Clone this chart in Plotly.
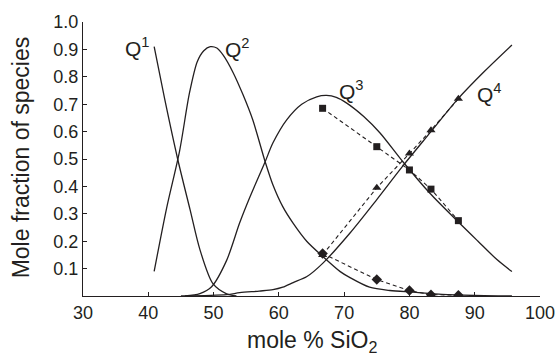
import plotly.graph_objects as go

# Solid model curves
q1_x = [40.9, 42.5, 44.5, 46.4, 47.9, 49.9, 52.0, 53.5]
q1_y = [0.91, 0.72, 0.50, 0.315, 0.17, 0.045, 0.008, 0.0]

q2_x = [40.9, 42.8, 44.8, 46.3, 47.5, 48.5, 49.5, 50.5, 51.5, 53.0, 54.5, 56.0, 57.9, 59.1, 60.6, 62.2,
        64.3, 66.75, 69.4, 70.9, 73.9, 77.0, 80.5, 85.0, 90.0, 95.7]
q2_y = [0.09, 0.32, 0.53, 0.74, 0.855, 0.895, 0.91, 0.905, 0.878, 0.815, 0.735, 0.643, 0.49, 0.405, 0.326, 0.265,
        0.199, 0.144, 0.089, 0.067, 0.032, 0.02, 0.014, 0.006, 0.002, 0.0]

q3_x = [45.6, 47.9, 49.7, 52.0, 54.0, 55.6, 57.9, 59.1, 61.2, 63.5, 65.8, 67.3, 68.8, 70.4, 73.0, 75.5,
        79.0, 83.1, 87.5, 90.5, 93.4, 95.7]
q3_y = [0.0, 0.009, 0.034, 0.13, 0.267, 0.363, 0.49, 0.559, 0.643, 0.70, 0.727, 0.732, 0.725, 0.704, 0.655, 0.595,
        0.49, 0.376, 0.27, 0.2, 0.133, 0.089]

q4_x = [45.0, 52.0, 54.0, 57.0, 59.1, 60.6, 62.2, 64.3, 66.75, 70.9, 75.0, 79.0, 83.3, 87.3, 91.5, 95.7]
q4_y = [0.0, 0.005, 0.012, 0.018, 0.023, 0.032, 0.049, 0.071, 0.12, 0.23, 0.352, 0.475, 0.6, 0.716, 0.82, 0.916]

# Experimental points (dashed with markers)
exp_x = [66.7, 75.0, 80.0, 83.3, 87.5]
sq_y = [0.685, 0.545, 0.46, 0.39, 0.275]
tri_y = [0.15, 0.395, 0.52, 0.605, 0.72]
dia_y = [0.155, 0.06, 0.02, 0.005, 0.003]

x_ticks = [30, 40, 50, 60, 70, 80, 90, 100]
y_ticks = [0.1, 0.2, 0.3, 0.4, 0.5, 0.6, 0.7, 0.8, 0.9, 1.0]
y_ticktext = ["0.1", "0.2", "0.3", "0.4", "0.5", "0.6", "0.7", "0.8", "0.9", "1.0"]

labels = ["Q<sup>1</sup>", "Q<sup>2</sup>", "Q<sup>3</sup>", "Q<sup>4</sup>"]
label_x = [38.3, 53.7, 71.2, 92.2]
label_y = [0.909, 0.905, 0.753, 0.742]

INK = "#231f20"
FONT = "Liberation Sans, Arial, sans-serif"

fig = go.Figure()
for xs, ys in [(q1_x, q1_y), (q2_x, q2_y), (q3_x, q3_y), (q4_x, q4_y)]:
    fig.add_trace(go.Scatter(x=xs, y=ys, mode="lines",
                             line=dict(color=INK, width=1.3, shape="spline", smoothing=0.8),
                             showlegend=False, hoverinfo="skip"))

for ys, sym, sz in [(sq_y, "square", 7), (tri_y, "triangle-up", 8), (dia_y, "diamond", 8)]:
    fig.add_trace(go.Scatter(x=exp_x, y=ys, mode="lines+markers",
                             line=dict(color=INK, width=1.1, dash="4px,3px"),
                             marker=dict(symbol=sym, size=sz, color=INK),
                             showlegend=False, hoverinfo="skip"))

for t, lx, ly in zip(labels, label_x, label_y):
    fig.add_annotation(x=lx, y=ly, text=t, showarrow=False,
                       font=dict(family=FONT, size=21, color=INK),
                       xanchor="center", yanchor="middle")

fig.add_annotation(xref="paper", yref="paper", x=0, y=0.506, xshift=-62,
                   text="Mole fraction of species", textangle=-90, showarrow=False,
                   font=dict(family=FONT, size=23, color=INK),
                   xanchor="center", yanchor="middle")
fig.add_annotation(xref="paper", yref="paper", x=0.5, y=0, yshift=-45,
                   text="mole % SiO<sub>2</sub>", showarrow=False,
                   font=dict(family=FONT, size=23, color=INK),
                   xanchor="center", yanchor="middle")

fig.update_layout(
    width=558, height=356,
    margin=dict(l=83, r=18, t=22, b=60),
    plot_bgcolor="white", paper_bgcolor="white",
    font=dict(family=FONT, size=18, color=INK),
    xaxis=dict(range=[30, 100], tickvals=x_ticks, ticks="inside", ticklen=4, tickcolor=INK,
               showline=True, linecolor=INK, linewidth=1.2, showgrid=False, zeroline=False,
               automargin=False, tickfont=dict(size=18, color=INK)),
    yaxis=dict(range=[0, 1.0], tickvals=y_ticks, ticktext=y_ticktext, ticks="inside", ticklen=4,
               tickcolor=INK, showline=True, linecolor=INK, linewidth=1.2, showgrid=False,
               zeroline=False, automargin=False, tickfont=dict(size=18, color=INK)),
)

fig.write_html("out.html")
